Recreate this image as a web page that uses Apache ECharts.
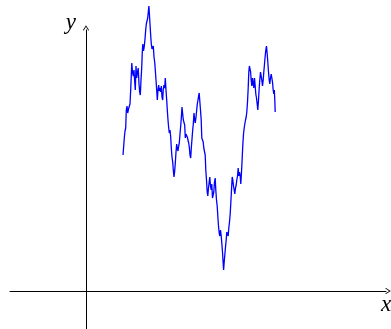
<!DOCTYPE html>
<html>
<head>
<meta charset="utf-8">
<script src="https://cdn.jsdelivr.net/npm/echarts@6/dist/echarts.min.js"></script>
<style>
  html, body { margin: 0; padding: 0; background: #fff; }
  #chart { width: 391px; height: 329px; }
</style>
</head>
<body>
<div id="chart"></div>
<script>
// Sample path of a random walk: time values and positions
const t = [37,37.7,38.3,39,39.7,40.3,41,41.7,42.5,43.3,44,44.7,45.3,45.8,46.5,47.3,48,48.7,49.3,50,
  50.7,51.5,52.2,53,53.7,54.3,55,55.7,56.3,56.8,57.5,58.2,59,59.7,60.3,61,61.7,62.3,62.9,63.4,
  64,64.6,65.3,66,66.7,67.3,68,68.7,69.3,70,70.7,71.3,72,72.7,73.3,74,74.7,75.3,76,76.7,
  77.3,78,78.7,79.3,80,80.7,81.3,82,82.7,83.3,84,84.7,85.3,86,86.7,87.3,88,88.6,89.3,90,
  90.7,91.3,92,92.7,93.3,94,94.7,95.3,96,96.7,97.3,98,98.7,99.3,100,100.7,101.3,102,102.7,103.3,
  104,104.7,105.3,106,106.7,107.3,108,108.7,109.3,110,110.7,111.3,112,112.6,113.2,113.8,114.5,115.2,115.8,116.5,
  117.2,117.8,118.5,119.2,119.8,120.5,121.2,121.8,122.5,123.2,123.8,124.5,125.2,125.8,126.5,127.2,127.8,128.5,129.2,129.8,
  130.5,131.2,131.8,132.5,133.2,133.8,134.5,135.2,135.8,136.5,137.1,137.6,138.2,138.8,139.5,140.2,140.8,141.5,142.2,142.8,
  143.5,144.2,144.8,145.5,146.2,146.8,147.5,148.2,148.8,149.5,150.2,150.8,151.5,152.2,152.8,153.5,154.2,154.8,155.5,156.2,
  156.8,157.5,158.2,158.8,159.5,160.2,160.8,161.5,162.2,162.8,163.4,164,164.6,165.2,165.8,166.5,167.2,167.8,168.5,169.2,
  169.8,170.5,171.2,171.8,172.5,173.2,173.8,174.5,175.2,175.8,176.5,177.2,177.8,178.5,179.2,179.8,180.5,181.2,181.8,182.5,
  183.2,183.8,184.5,185.2,185.8,186.5,187.2,187.8,188.3,188.8,189.2];
const w = [136,145,153,160,163,181,185,178,182,180,187,201,216,228,219,215,221,209,201,225,
  213,219,223,207,199,196,211,223,239,247,240,244,252,261,267,265,273,279,285,277,
  267,257,247,242,241,245,234,229,221,211,201,191,201,206,200,203,199,205,194,191,
  202,206,203,213,201,191,181,171,163,158,161,154,143,134,129,121,114,119,128,139,
  147,143,140,145,148,157,165,173,184,177,171,173,166,153,157,159,154,155,148,144,
  136,133,143,152,161,167,178,171,168,174,181,187,191,195,198,190,181,171,153,155,
  149,143,145,136,121,111,99,95,103,109,114,105,101,107,93,91,99,109,113,101,
  91,85,75,65,58,55,61,55,48,39,29,21,29,36,44,51,59,61,55,63,
  69,77,88,101,114,111,105,101,97,103,106,111,115,123,115,119,115,107,119,133,
  146,157,163,167,171,174,179,189,203,219,225,227,219,211,205,213,207,203,213,205,
  197,193,187,181,191,203,211,219,217,211,205,211,219,227,235,241,245,237,229,219,
  211,207,213,217,215,209,201,197,201,191,179];

// Axis labels
const xName = 'x';
const yName = 'y';

const path = t.map((v, i) => [v, w[i]]);

// Open chevron used as arrow head (tip pointing up before rotation)
const chevron = 'path://M5 0 L10 8 L9 9.2 L5 2.6 L1 9.2 L0 8 Z';

const chart = echarts.init(document.getElementById('chart'), null, { renderer: 'canvas' });
chart.setOption({
  animation: false,
  backgroundColor: '#fff',
  grid: { left: 10, right: 5, top: 30, bottom: 0, containLabel: false, outerBoundsMode: 'none' },
  xAxis: {
    type: 'value', min: -76, max: 300,
    name: xName, nameLocation: 'end', nameGap: 0,
    nameTextStyle: {
      fontFamily: 'Liberation Serif', fontStyle: 'italic', fontSize: 23,
      color: '#000', align: 'center', verticalAlign: 'top', padding: [2, 0, 0, 0]
    },
    axisLine: { onZero: true, lineStyle: { color: '#000', width: 1 },
      symbol: ['none', chevron], symbolSize: [7, 5.5], symbolOffset: [0, 2] },
    axisTick: { show: false }, axisLabel: { show: false }, splitLine: { show: false }
  },
  yAxis: {
    type: 'value', min: -38, max: 261,
    name: yName, nameLocation: 'end', nameGap: 0,
    nameTextStyle: {
      fontFamily: 'Liberation Serif', fontStyle: 'italic', fontSize: 23,
      color: '#000', align: 'right', verticalAlign: 'bottom', padding: [0, 10, -4, 0]
    },
    axisLine: { onZero: true, lineStyle: { color: '#000', width: 1 },
      symbol: ['none', chevron], symbolSize: [7, 5.5], symbolOffset: [0, 2] },
    axisTick: { show: false }, axisLabel: { show: false }, splitLine: { show: false }
  },
  series: [{
    type: 'line',
    data: path,
    showSymbol: false,
    clip: false,
    lineStyle: { color: '#0000ff', width: 1.3 },
    z: 3
  }]
});
</script>
</body>
</html>
